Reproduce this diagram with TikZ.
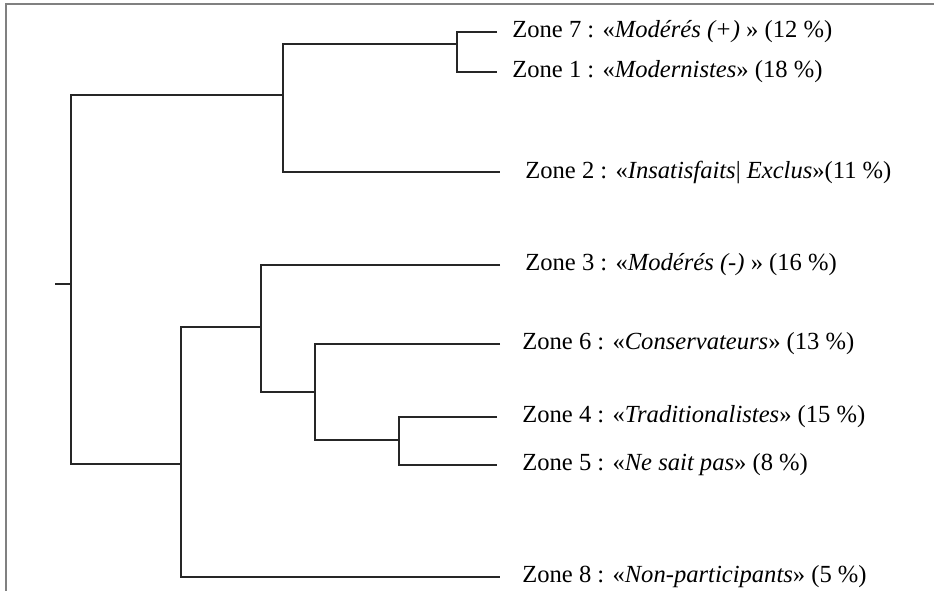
\documentclass[tikz,border=0pt]{standalone}
\usepackage{fontspec}
\setmainfont{Liberation Serif}
\usetikzlibrary{positioning}
\tikzset{
  br/.style ={line width=1.3pt,black!85},
  frm/.style={line width=0.6pt,gray},
  lab/.style={anchor=west,inner sep=0pt,font=\fontsize{14}{16}\selectfont},
}
\begin{document}
\begin{tikzpicture}[x=0.02cm,y=-0.02cm]
  \useasboundingbox (0,0) rectangle (934,591);
  % frame
  \coordinate (fa) at (6,591);
  \coordinate (fb) at (6,4);
  \coordinate (fc) at (934,4);
  \draw[frm] (fa)--(fb)--(fc);
  % leaves
  \coordinate (l7) at (497,32);
  \coordinate (l1) at (497,72);
  \coordinate (l2) at (500,172);
  \coordinate (l3) at (500,265);
  \coordinate (l6) at (500,344);
  \coordinate (l4) at (497,417);
  \coordinate (l5) at (497,465);
  \coordinate (l8) at (500,577);
  \node[lab] (t7) at (512,32) {Zone 7 : «\textit{Modérés (+)} » (12 \%)};
  \node[lab] (t1) at (512,72) {Zone 1 : «\textit{Modernistes}» (18 \%)};
  \node[lab] (t2) at (525,172) {Zone 2 : «\textit{Insatisfaits}| \textit{Exclus}»(11 \%)};
  \node[lab] (t3) at (525,265) {Zone 3 : «\textit{Modérés (-)} » (16 \%)};
  \node[lab] (t6) at (522,344) {Zone 6 : «\textit{Conservateurs}» (13 \%)};
  \node[lab] (t4) at (522,417) {Zone 4 : «\textit{Traditionalistes}» (15 \%)};
  \node[lab] (t5) at (522,465) {Zone 5 : «\textit{Ne sait pas}» (8 \%)};
  \node[lab] (t8) at (522,577) {Zone 8 : «\textit{Non-participants}» (5 \%)};
  % junctions
  \coordinate (a) at (457,44);
  \coordinate (b) at (283,95);
  \coordinate (r) at (71,284);
  \coordinate (s) at (55,284);
  \coordinate (c) at (181,464);
  \coordinate (d) at (261,327);
  \coordinate (e) at (315,392);
  \coordinate (f) at (399,440);
  % tree
  \draw[br] (l7) -| (a) |- (l1);
  \draw[br] (a) -| (b) |- (l2);
  \draw[br] (b) -| (r) |- (c);
  \draw[br] (s) -- (r);
  \draw[br] (d) -| (c) |- (l8);
  \draw[br] (l3) -| (d) |- (e);
  \draw[br] (l6) -| (e) |- (f);
  \draw[br] (l4) -| (f) |- (l5);
\end{tikzpicture}
\end{document}
